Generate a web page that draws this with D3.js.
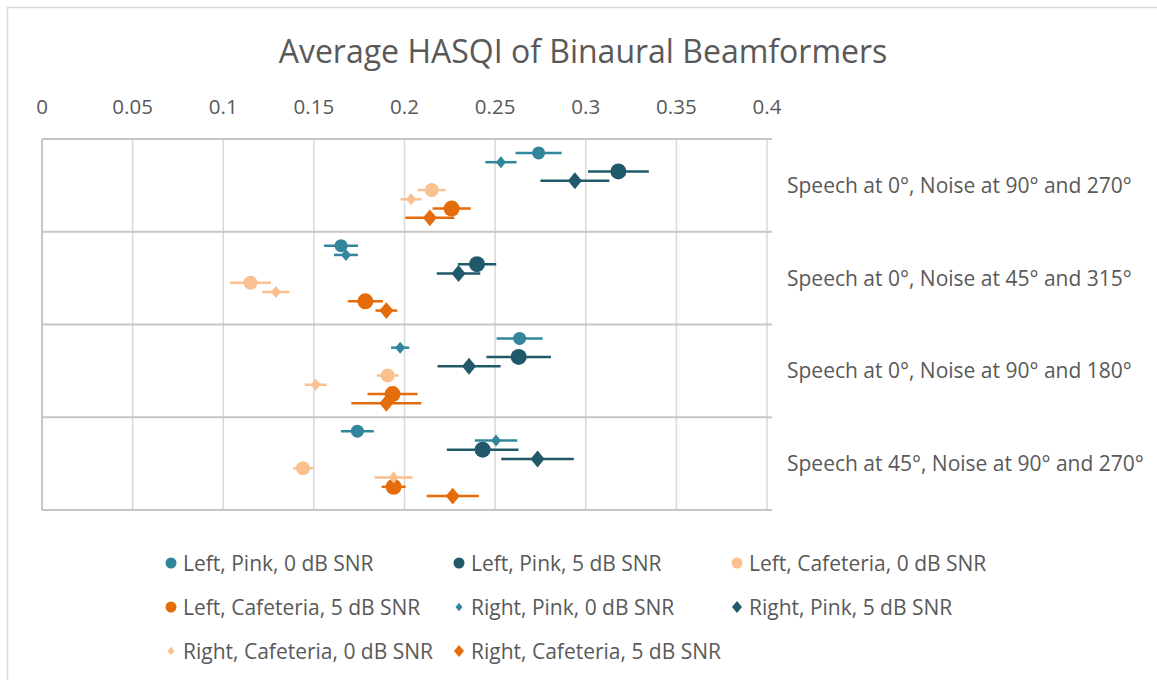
<!DOCTYPE html>
<html>
<head>
<meta charset="utf-8">
<script src="https://cdn.jsdelivr.net/npm/d3@7"></script>
<style>
  body { margin: 0; background: #fff; }
  text { font-family: "Open Sans", Lato, sans-serif; fill: #595959; }
</style>
</head>
<body>
<div id="chart"></div>
<script>
// categories, top to bottom
const categories = [
  "Speech at 0°, Noise at 90° and 270°",
  "Speech at 0°, Noise at 45° and 315°",
  "Speech at 0°, Noise at 90° and 180°",
  "Speech at 45°, Noise at 90° and 270°"
];
const xTicks = [0, 0.05, 0.1, 0.15, 0.2, 0.25, 0.3, 0.35, 0.4];

// series in legend order; slot = position inside a category band
const seriesNames = [
  "Left, Pink, 0 dB SNR", "Left, Pink, 5 dB SNR", "Left, Cafeteria, 0 dB SNR", "Left, Cafeteria, 5 dB SNR",
  "Right, Pink, 0 dB SNR", "Right, Pink, 5 dB SNR", "Right, Cafeteria, 0 dB SNR", "Right, Cafeteria, 5 dB SNR"
];
const seriesSlot = [0, 2, 4, 6, 1, 3, 5, 7];
const seriesColor = ["#31869c", "#205a6a", "#f9c190", "#e46c0a", "#31869c", "#205a6a", "#f9c190", "#e46c0a"];
const seriesShape = ["circle", "circle", "circle", "circle", "diamond", "diamond", "diamond", "diamond"];
const seriesSize = [6.5, 8, 7, 8, 5, 7, 5, 7];

// mean HASQI per category, one array per series
const meanValues = [
  [0.274, 0.165, 0.2635, 0.174],
  [0.318, 0.240, 0.263, 0.2431],
  [0.215, 0.115, 0.1907, 0.144],
  [0.226, 0.1784, 0.1934, 0.194],
  [0.2532, 0.1677, 0.1976, 0.2505],
  [0.294, 0.2298, 0.2356, 0.2734],
  [0.2036, 0.129, 0.151, 0.194],
  [0.214, 0.190, 0.190, 0.2266]
];
const errValues = [
  [0.0127, 0.0094, 0.0127, 0.0091],
  [0.0168, 0.0106, 0.0178, 0.0198],
  [0.0077, 0.0113, 0.006, 0.0055],
  [0.0105, 0.0097, 0.0138, 0.0066],
  [0.0086, 0.0066, 0.005, 0.0117],
  [0.019, 0.012, 0.0174, 0.020],
  [0.0058, 0.0075, 0.006, 0.0105],
  [0.0135, 0.006, 0.0193, 0.0144]
];

const W = 1157, H = 680;
const svg = d3.select("#chart").append("svg")
  .attr("width", W).attr("height", H);

svg.append("rect").attr("x", 7.5).attr("y", 7.5)
  .attr("width", W).attr("height", H)
  .attr("fill", "#fff").attr("stroke", "#d9d9d9").attr("stroke-width", 1.5);

const x = d3.scaleLinear().domain([0, 0.4]).range([42, 767]);
// each category band is 10 units tall on y
const y = d3.scaleLinear().domain([0, 40]).range([139, 510]);

// title
svg.append("text")
  .attr("x", 583).attr("y", 63)
  .attr("text-anchor", "middle")
  .style("font-size", "32px")
  .text("Average HASQI of Binaural Beamformers");

// vertical gridlines
svg.append("g").selectAll("line")
  .data(xTicks.slice(1))
  .enter().append("line")
  .attr("x1", d => x(d)).attr("x2", d => x(d))
  .attr("y1", y(0)).attr("y2", y(40))
  .attr("stroke", "#d9d9d9").attr("stroke-width", 1.5);

// category boundaries (horizontal) with tick overhang
svg.append("g").selectAll("line")
  .data([0, 10, 20, 30, 40])
  .enter().append("line")
  .attr("x1", x(0)).attr("x2", x(0.4) + 5)
  .attr("y1", d => y(d)).attr("y2", d => y(d))
  .attr("stroke", "#c6c6c6").attr("stroke-width", 2);

svg.append("line")
  .attr("x1", x(0)).attr("x2", x(0))
  .attr("y1", y(0)).attr("y2", y(40))
  .attr("stroke", "#c6c6c6").attr("stroke-width", 2);

// top axis labels
svg.append("g").selectAll("text")
  .data(xTicks)
  .enter().append("text")
  .attr("x", d => x(d)).attr("y", 114)
  .attr("text-anchor", "middle")
  .style("font-size", "20.5px")
  .text(d => d);

// category labels on the right
svg.append("g").selectAll("text")
  .data(categories)
  .enter().append("text")
  .attr("x", 787).attr("y", (d, i) => y(i * 10 + 5) + 7.5)
  .style("font-size", "21px")
  .text(d => d);

function drawMarker(g, shape, r, color) {
  if (shape === "circle") {
    g.append("circle").attr("r", r).attr("fill", color);
  } else {
    g.append("path")
      .attr("d", `M0,${-r * 1.2}L${r},0L0,${r * 1.2}L${-r},0Z`)
      .attr("fill", color);
  }
}

// series
seriesNames.forEach((name, s) => {
  const g = svg.append("g");
  const pts = meanValues[s].map((v, k) => ({ v: v, e: errValues[s][k], yy: k * 10 + 1.5 + seriesSlot[s] }));
  g.selectAll("line")
    .data(pts)
    .enter().append("line")
    .attr("x1", d => x(d.v - d.e)).attr("x2", d => x(d.v + d.e))
    .attr("y1", d => y(d.yy)).attr("y2", d => y(d.yy))
    .attr("stroke", seriesColor[s]).attr("stroke-width", 2.5);
  pts.forEach(d => {
    const m = g.append("g").attr("transform", `translate(${x(d.v)}, ${y(d.yy)})`);
    drawMarker(m, seriesShape[s], seriesSize[s], seriesColor[s]);
  });
});

// legend
const legendCols = [171, 459, 737];
const legendRows = [563, 607, 651];
seriesNames.forEach((name, s) => {
  const col = s % 3, row = Math.floor(s / 3);
  const m = svg.append("g").attr("transform", `translate(${legendCols[col]}, ${legendRows[row]})`);
  const r = seriesShape[s] === "circle" ? 5.5 : (seriesSize[s] > 5 ? 5 : 3.5);
  drawMarker(m, seriesShape[s], r, seriesColor[s]);
  svg.append("text")
    .attr("x", legendCols[col] + 12).attr("y", legendRows[row] + 7.5)
    .style("font-size", "21px")
    .text(name);
});
</script>
</body>
</html>
